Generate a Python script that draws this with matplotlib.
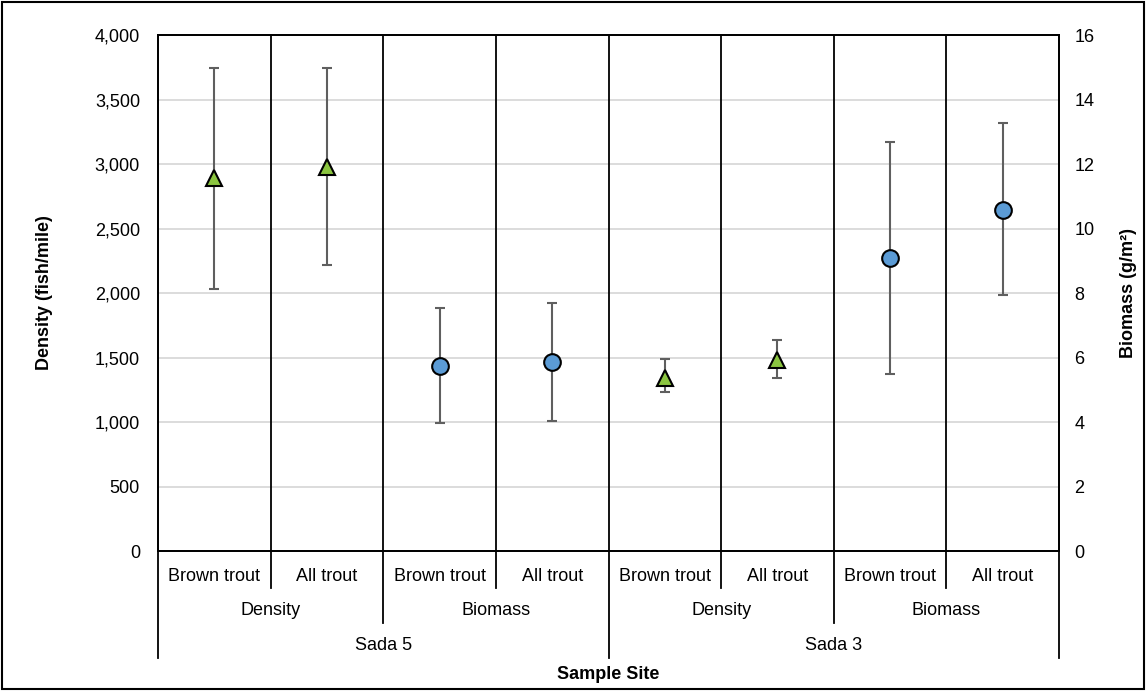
import matplotlib.pyplot as plt
from matplotlib.patches import Rectangle
from matplotlib.transforms import blended_transform_factory
from matplotlib.ticker import FuncFormatter

plt.rcParams['font.family'] = ['Liberation Sans', 'DejaVu Sans']

# data
categories = ['Brown trout', 'All trout', 'Brown trout', 'All trout',
              'Brown trout', 'All trout', 'Brown trout', 'All trout']
groups = ['Density', 'Biomass', 'Density', 'Biomass']
sites = ['Sada 5', 'Sada 3']

density_x = [0, 1, 4, 5]
density = [2890, 2975, 1345, 1480]
density_low = [2035, 2220, 1230, 1340]
density_high = [3745, 3745, 1485, 1637]

biomass_x = [2, 3, 6, 7]
biomass = [5.74, 5.86, 9.08, 10.57]
biomass_low = [3.98, 4.04, 5.50, 7.94]
biomass_high = [7.52, 7.69, 12.68, 13.26]

fs = 13

fig = plt.figure(figsize=(11.46, 6.91), dpi=100)
ax = fig.add_axes([0.1379, 0.2026, 0.7862, 0.7467])
ax2 = ax.twinx()

ax.set_xlim(-0.5, 7.5)
ax.set_ylim(0, 4000)
ax2.set_ylim(0, 16)
ax.set_yticks(range(0, 4001, 500))
ax2.set_yticks(range(0, 17, 2))
ax.yaxis.set_major_formatter(FuncFormatter(lambda v, p: f'{int(v):,}'))
ax.set_xticks([])

for a in (ax, ax2):
    a.tick_params(axis='y', length=0, labelsize=fs)
    for s in a.spines.values():
        s.set_color('black')
        s.set_linewidth(1.3)
ax.tick_params(axis='y', pad=13)
ax2.tick_params(axis='y', pad=11)

# light horizontal gridlines
for v in range(500, 4000, 500):
    ax.axhline(v, color='#d9d9d9', lw=1.3, zorder=0)

# category separators inside the plot
for xs in [0.5, 1.5, 2.5, 3.5, 4.5, 5.5, 6.5]:
    ax.axvline(xs, color='black', lw=1.3, zorder=1)

# error bars + markers
dl = [d - l for d, l in zip(density, density_low)]
dh = [h - d for d, h in zip(density, density_high)]
ax.errorbar(density_x, density, yerr=[dl, dh], fmt='none', ecolor='#5f5f5f',
            elinewidth=1.5, capsize=3.8, capthick=1.5, zorder=3)
ax.plot(density_x, density, linestyle='none', marker='^', ms=12,
        mfc='#8BC540', mec='black', mew=1.5, zorder=4)

bl = [b - l for b, l in zip(biomass, biomass_low)]
bh = [h - b for b, h in zip(biomass, biomass_high)]
ax2.errorbar(biomass_x, biomass, yerr=[bl, bh], fmt='none', ecolor='#5f5f5f',
             elinewidth=1.5, capsize=3.8, capthick=1.5, zorder=3)
ax2.plot(biomass_x, biomass, linestyle='none', marker='o', ms=12,
         mfc='#5B9BD5', mec='black', mew=1.5, zorder=4)

# hierarchical x labels
trans = blended_transform_factory(ax.transData, ax.transAxes)
h = 516.0
for i, c in enumerate(categories):
    ax.text(i, -25 / h, c, transform=trans, ha='center', va='center', fontsize=fs)
for i, g in enumerate(groups):
    ax.text(2 * i + 0.5, -60 / h, g, transform=trans, ha='center', va='center', fontsize=fs)
for i, s in enumerate(sites):
    ax.text(4 * i + 1.5, -95 / h, s, transform=trans, ha='center', va='center', fontsize=fs)

for xs in [0.5, 2.5, 4.5, 6.5]:
    ax.plot([xs, xs], [0, -37 / h], transform=trans, color='black', lw=1.3, clip_on=False)
for xs in [1.5, 5.5]:
    ax.plot([xs, xs], [0, -72 / h], transform=trans, color='black', lw=1.3, clip_on=False)
for xs in [-0.5, 3.5, 7.5]:
    ax.plot([xs, xs], [0, -107 / h], transform=trans, color='black', lw=1.3, clip_on=False)

ax.text(0.5, -124 / h, 'Sample Site', transform=ax.transAxes, ha='center', va='center',
        fontsize=fs, fontweight='bold')

ax.set_ylabel('Density (fish/mile)', fontsize=fs, fontweight='bold')
ax.yaxis.set_label_coords(-0.1165, 0.5)
ax2.set_ylabel('Biomass (g/m²)', fontsize=fs, fontweight='bold')
ax2.yaxis.set_label_coords(1.0677, 0.5)

# outer border
fig.patches.append(Rectangle((0.002, 0.003), 0.996, 0.994, transform=fig.transFigure,
                             fill=False, edgecolor='black', lw=1.5))

fig.savefig('out.png', dpi=100)
